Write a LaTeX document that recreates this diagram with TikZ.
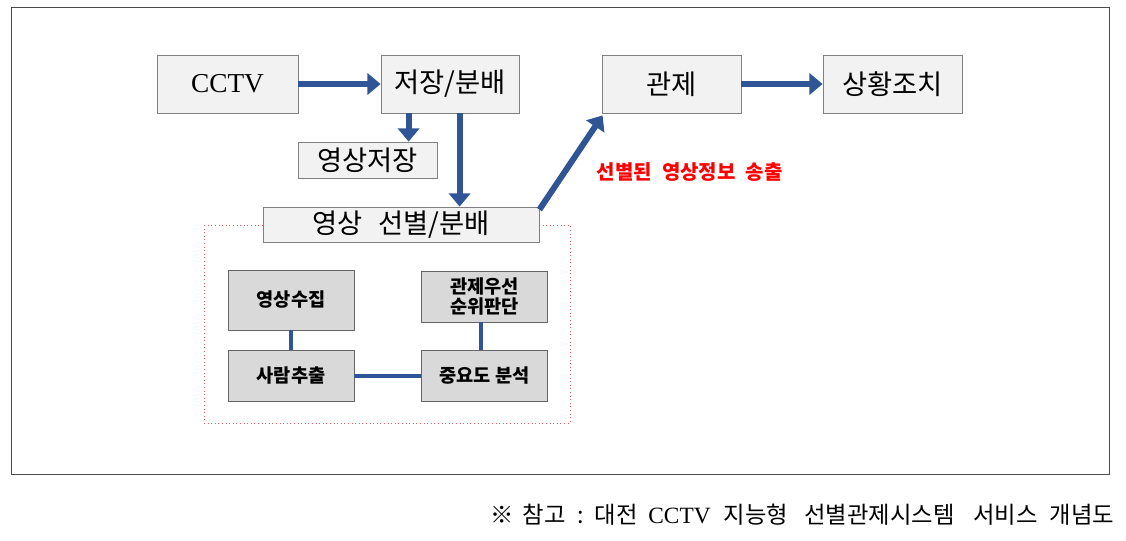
\documentclass[tikz,border=0pt]{standalone}
\usepackage{fontspec}
\setmainfont{Liberation Serif}
\newfontfamily\kr{Noto Sans CJK KR}
\usepackage{tikz}
\usetikzlibrary{arrows.meta,calc,positioning}
\definecolor{arrblue}{HTML}{2F5597}
\definecolor{boxgray}{HTML}{F2F2F2}
\definecolor{innergray}{HTML}{D9D9D9}
\definecolor{framered}{HTML}{E05A5A}

\begin{document}
\begin{tikzpicture}[x=0.75pt, y=-0.75pt]
      \tikzstyle{every node} = [inner sep = 2pt];
      \tikzstyle{mainbox} = [draw=black!50, fill=boxgray, line width=0.6pt, font=\kr\fontsize{20.5}{24}\selectfont];
      \tikzstyle{subbox} = [draw=black!60, fill=innergray, line width=0.6pt, align=center, font=\kr\bfseries\fontsize{14}{17}\selectfont, minimum width=94.5pt];
      \tikzstyle{arr} = [arrblue, line width=4.5pt, -{Triangle[length=10pt, width=16pt]}];
      \tikzstyle{link} = [arrblue, line width=3pt];
      \useasboundingbox (0,0) rectangle (1126,540);
      \draw[black!70, line width=0.6pt] (11,7) rectangle (1109,474);
      \draw[framered, dotted, line width=0.7pt] (204,225) rectangle (570,423);

      \node (cctv) [mainbox, minimum width=105.75pt, minimum height=43.5pt] at (227.5,84) {\rmfamily CCTV};
      \node (store) [mainbox, minimum width=103.5pt, minimum height=43.5pt] at (450,84) {저장/분배};
      \node (ctrl) [mainbox, minimum width=104.25pt, minimum height=43.5pt] at (671.5,84) {관제};
      \node (act) [mainbox, minimum width=104.25pt, minimum height=43.5pt] at (892.5,84) {상황조치};
      \node (vstore) [mainbox, minimum width=104.25pt, minimum height=27pt] at (367.5,160) {영상저장};
      \node (sel) [mainbox, minimum width=207pt, minimum height=26.25pt] at (401,224.5) {영상\hspace{0.6em}선별/분배};

      \node (collect) [subbox, minimum height=45pt] at (291,300) {영상수집};
      \node (prio) [subbox, minimum height=38.25pt] at (484.5,296.5) {관제우선\\[-2pt]순위판단};
      \node (extract) [subbox, minimum height=38.25pt] at (291,375.5) {사람추출};
      \node (analy) [subbox, minimum height=38.25pt] at (484.5,375.5) {중요도 분석};

      \coordinate (s1) at ($(store.south west)+(28,0)$);
      \coordinate (s2) at ($(store.south west)+(79,0)$);
      \coordinate (d1) at ($(sel.north east)+(0,3)$);
      \coordinate (c1) at ($(ctrl.south west)+(1,2)$);

      \draw[arr] (cctv) -- (store);
      \draw[arr] (ctrl) -- (act);
      \draw[arr] (s1) -- (s1 |- vstore.north);
      \draw[arr] (s2) -- (s2 |- sel.north);
      \draw[arr] (d1) -- (c1);

      \draw[link] (collect) -- (extract);
      \draw[link] (prio.south -| 481,0) -- (analy.north -| 481,0);
      \draw[link] (extract) -- (analy);

      \node (label) [red, anchor=west, font=\kr\bfseries\fontsize{15}{18}\selectfont] at (594,172) {선별된\hspace{0.5em}영상정보\hspace{0.5em}송출};
      \node (caption) [anchor=east, font=\kr\fontsize{17.5}{20}\selectfont] at (1117,515) {※\hspace{7pt}참고\hspace{9pt}:\hspace{8pt}대전\hspace{8pt}{\rmfamily CCTV}\hspace{10pt}지능형\hspace{12pt}선별관제시스템\hspace{14pt}서비스\hspace{9pt}개념도};
\end{tikzpicture}
\end{document}
